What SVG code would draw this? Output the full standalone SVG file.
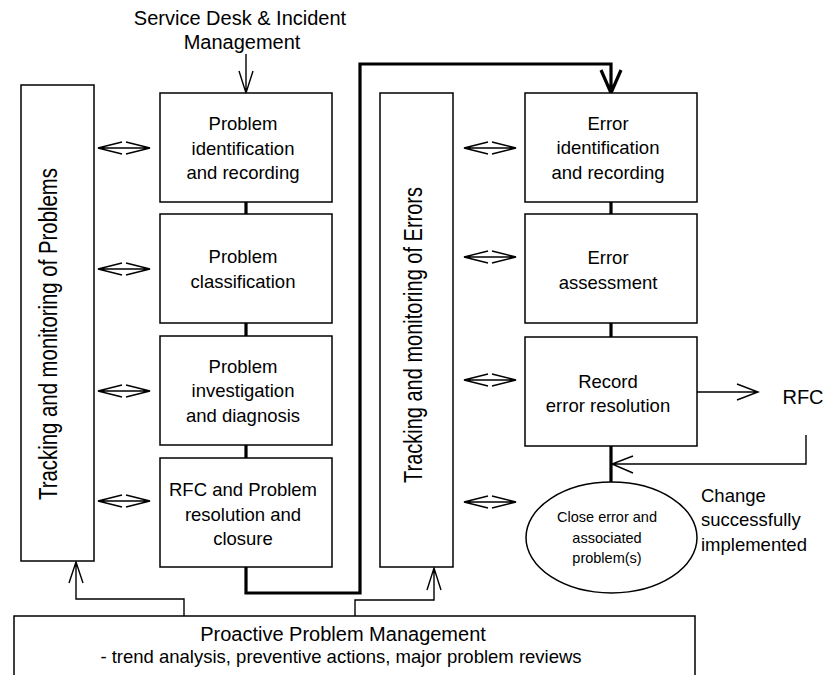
<svg xmlns="http://www.w3.org/2000/svg" width="826" height="675" viewBox="0 0 826 675">
  <style>
    .box { fill: #fff; stroke: #000; stroke-width: 1.5; }
    .thin { fill: none; stroke: #000; stroke-width: 1.4; }
    .bold { fill: none; stroke: #000; stroke-width: 3.2; }
    .t { font-family: "Liberation Sans", Arial, sans-serif; fill: #000; text-anchor: middle; }
    .lg { font-size: 20px; }
    .md { font-size: 18.5px; }
    .sm { font-size: 14.5px; }
    .vt { font-size: 25px; }
  </style>
  <defs>
    <!-- two-way open arrow between tracking column and step -->
    <path id="dbl" d="M0 0 H52 M24 -6 L0 0 L24 6 M28 -6 L52 0 L28 6" fill="none" stroke="#000" stroke-width="1.4"/>
  </defs>
  <rect width="826" height="675" fill="#fff"/>

  <!-- connectors -->
  <g id="connectors">
    <!-- incoming from Service Desk -->
    <path class="thin" d="M246 54 V93 M239 71 L246 93 L253 71"/>
    <!-- main problem flow -->
    <path class="bold" d="M246 202 V214 M246 323 V336 M246 445 V458"/>
    <path class="bold" d="M246 567 V593 H360 V64 H611 V93 M601 70 L611 93 L621 70"/>
    <!-- error flow -->
    <path class="bold" d="M611 202 V214 M611 323 V337 M611 446 V482"/>
    <!-- RFC out and back -->
    <path class="thin" d="M697 392 H758 M737 384 L758 392 L737 400"/>
    <path class="thin" d="M806 435 V464 H612 M633 456 L612 464 L633 473"/>
    <!-- proactive feeds -->
    <path class="thin" d="M184 616 V599 H76 V562 M69 583 L76 562 L83 583"/>
    <path class="thin" d="M355 616 V600 H434 V568 M427 590 L434 568 L441 590"/>
    <!-- tracking links -->
    <use href="#dbl" x="98" y="148"/>
    <use href="#dbl" x="98" y="269"/>
    <use href="#dbl" x="98" y="391"/>
    <use href="#dbl" x="98" y="501"/>
    <use href="#dbl" x="464" y="148"/>
    <use href="#dbl" x="464" y="257"/>
    <use href="#dbl" x="464" y="380"/>
    <use href="#dbl" x="464" y="502"/>
  </g>

  <g id="service-desk">
    <text class="t lg" x="240" y="25">Service Desk &amp; Incident</text>
    <text class="t lg" x="242" y="49">Management</text>
  </g>

  <g id="tracking-problems">
    <rect class="box" x="21" y="85" width="73" height="476"/>
    <text class="t vt" transform="translate(57 334) rotate(-90)" textLength="332" lengthAdjust="spacingAndGlyphs">Tracking and monitoring of Problems</text>
  </g>

  <g id="problem-identification">
    <rect class="box" x="160" y="93" width="172" height="109"/>
    <text class="t md" x="243" y="130">Problem</text>
    <text class="t md" x="243" y="155">identification</text>
    <text class="t md" x="243" y="179">and recording</text>
  </g>

  <g id="problem-classification">
    <rect class="box" x="160" y="214" width="172" height="109"/>
    <text class="t md" x="243" y="263">Problem</text>
    <text class="t md" x="243" y="288">classification</text>
  </g>

  <g id="problem-investigation">
    <rect class="box" x="160" y="336" width="172" height="109"/>
    <text class="t md" x="243" y="373">Problem</text>
    <text class="t md" x="243" y="397">investigation</text>
    <text class="t md" x="243" y="422">and diagnosis</text>
  </g>

  <g id="problem-resolution">
    <rect class="box" x="160" y="458" width="172" height="109"/>
    <text class="t md" x="243" y="496">RFC and Problem</text>
    <text class="t md" x="243" y="521">resolution and</text>
    <text class="t md" x="243" y="545">closure</text>
  </g>

  <g id="tracking-errors">
    <rect class="box" x="380" y="93" width="73" height="474"/>
    <text class="t vt" transform="translate(422 335) rotate(-90)" textLength="296" lengthAdjust="spacingAndGlyphs">Tracking and monitoring of Errors</text>
  </g>

  <g id="error-identification">
    <rect class="box" x="525" y="93" width="172" height="109"/>
    <text class="t md" x="608" y="130">Error</text>
    <text class="t md" x="608" y="154">identification</text>
    <text class="t md" x="608" y="179">and recording</text>
  </g>

  <g id="error-assessment">
    <rect class="box" x="525" y="214" width="172" height="109"/>
    <text class="t md" x="608" y="264">Error</text>
    <text class="t md" x="608" y="289">assessment</text>
  </g>

  <g id="record-resolution">
    <rect class="box" x="525" y="337" width="172" height="109"/>
    <text class="t md" x="608" y="388">Record</text>
    <text class="t md" x="608" y="412">error resolution</text>
  </g>

  <g id="rfc">
    <text class="t lg" x="803" y="404">RFC</text>
  </g>

  <g id="close-error">
    <ellipse class="box" cx="611.5" cy="537.5" rx="85.5" ry="55.5"/>
    <text class="t sm" x="607" y="522">Close error and</text>
    <text class="t sm" x="607" y="543">associated</text>
    <text class="t sm" x="607" y="563">problem(s)</text>
  </g>

  <g id="change-label">
    <text class="t md" x="701" y="502" style="text-anchor:start">Change</text>
    <text class="t md" x="701" y="526" style="text-anchor:start">successfully</text>
    <text class="t md" x="701" y="551" style="text-anchor:start">implemented</text>
  </g>

  <g id="proactive">
    <rect class="box" x="14" y="616" width="681" height="80"/>
    <text class="t lg" x="343" y="641">Proactive Problem Management</text>
    <text class="t md" x="341" y="663">- trend analysis, preventive actions, major problem reviews</text>
  </g>
</svg>
